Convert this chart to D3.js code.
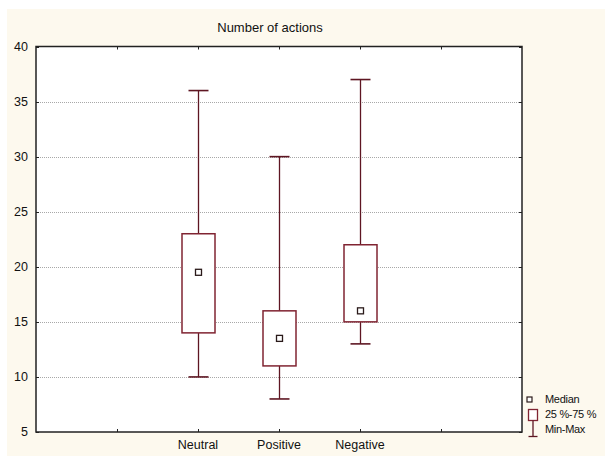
<!DOCTYPE html>
<html lang="en">
<head>
    <meta charset="UTF-8">
    <title>Number of actions</title>
    <script src="https://d3js.org/d3.v7.min.js"></script>
    <style>
        body {
            margin: 0;
            background: #fff;
            font-family: Arial, 'Liberation Sans', sans-serif;
        }
        .tick-label {
            font-size: 12.5px;
            fill: #111;
        }
        .legend-label {
            font-size: 11px;
            fill: #111;
        }
    </style>
</head>
<body>
    <div id="chart"></div>

    <script>
        // Data
        const slots = ['', 'Neutral', 'Positive', 'Negative', ''];
        const groups = ['Neutral', 'Positive', 'Negative'];
        const minVals = [10, 8, 13];
        const q1Vals = [14, 11, 15];
        const medianVals = [19.5, 13.5, 16];
        const q3Vals = [23, 16, 22];
        const maxVals = [36, 30, 37];
        const yTicks = [5, 10, 15, 20, 25, 30, 35, 40];
        const legendItems = ['Median', '25 %-75 %', 'Min-Max'];

        const config = {
            width: 605,
            height: 456,
            plot: { left: 36, right: 522, top: 46.5, bottom: 432 },
            boxWidth: 33,
            capWidth: 20,
            markSize: 6,
            boxColor: '#802432',
            whiskerColor: '#5e1622'
        };

        const svg = d3.select('#chart')
            .append('svg')
            .attr('width', config.width)
            .attr('height', config.height);

        // cream panel
        svg.append('rect')
            .attr('x', 7).attr('y', 9)
            .attr('width', config.width - 7)
            .attr('height', config.height - 9)
            .attr('fill', '#fdf9ee');

        const p = config.plot;

        // Scales: category centres sit on point positions with one empty slot padding
        const x = d3.scalePoint()
            .domain(d3.range(slots.length))
            .range([p.left, p.right])
            .padding(1);

        const y = d3.scaleLinear()
            .domain([5, 40])
            .range([p.bottom, p.top]);

        // plot area
        svg.append('rect')
            .attr('x', p.left).attr('y', p.top)
            .attr('width', p.right - p.left)
            .attr('height', p.bottom - p.top)
            .attr('fill', '#fff');

        // grid lines
        svg.append('g')
            .selectAll('line')
            .data(yTicks.filter(t => t > 5 && t < 40))
            .enter().append('line')
            .attr('x1', p.left).attr('x2', p.right)
            .attr('y1', d => Math.round(y(d)) + 0.5)
            .attr('y2', d => Math.round(y(d)) + 0.5)
            .attr('stroke', '#a8a8a8')
            .attr('stroke-dasharray', '1,1');

        // y axis labels + ticks
        const yAxis = svg.append('g');
        yAxis.selectAll('text')
            .data(yTicks)
            .enter().append('text')
            .attr('class', 'tick-label')
            .attr('x', p.left - 8)
            .attr('y', d => y(d))
            .attr('dy', '0.35em')
            .attr('text-anchor', 'end')
            .text(d => d);
        yAxis.selectAll('line.l')
            .data(yTicks)
            .enter().append('line')
            .attr('x1', p.left).attr('x2', p.left + 3)
            .attr('y1', d => Math.round(y(d)) + 0.5)
            .attr('y2', d => Math.round(y(d)) + 0.5)
            .attr('stroke', '#222');
        yAxis.selectAll('line.r')
            .data(yTicks)
            .enter().append('line')
            .attr('x1', p.right - 3).attr('x2', p.right)
            .attr('y1', d => Math.round(y(d)) + 0.5)
            .attr('y2', d => Math.round(y(d)) + 0.5)
            .attr('stroke', '#222');

        // x ticks (top and bottom)
        const xAxis = svg.append('g');
        slots.forEach((s, i) => {
            const cx = Math.round(x(i)) + 0.5;
            xAxis.append('line')
                .attr('x1', cx).attr('x2', cx)
                .attr('y1', p.bottom - 3).attr('y2', p.bottom)
                .attr('stroke', '#222');
            xAxis.append('line')
                .attr('x1', cx).attr('x2', cx)
                .attr('y1', p.top).attr('y2', p.top + 3)
                .attr('stroke', '#222');
            if (s) {
                xAxis.append('text')
                    .attr('class', 'tick-label')
                    .attr('x', x(i))
                    .attr('y', p.bottom + 17)
                    .attr('text-anchor', 'middle')
                    .text(s);
            }
        });

        // plot frame
        svg.append('rect')
            .attr('x', p.left).attr('y', p.top)
            .attr('width', p.right - p.left)
            .attr('height', p.bottom - p.top)
            .attr('fill', 'none')
            .attr('stroke', '#222')
            .attr('stroke-width', 1.5);

        // Boxes
        const boxes = svg.append('g');
        groups.forEach((g, i) => {
            const cx = Math.round(x(slots.indexOf(g))) + 0.5;

            // whiskers
            boxes.append('line')
                .attr('x1', cx).attr('x2', cx)
                .attr('y1', y(maxVals[i])).attr('y2', y(q3Vals[i]))
                .attr('stroke', config.whiskerColor).attr('stroke-width', 1.3);
            boxes.append('line')
                .attr('x1', cx).attr('x2', cx)
                .attr('y1', y(q1Vals[i])).attr('y2', y(minVals[i]))
                .attr('stroke', config.whiskerColor).attr('stroke-width', 1.3);
            [maxVals[i], minVals[i]].forEach(v => {
                boxes.append('line')
                    .attr('x1', cx - config.capWidth / 2).attr('x2', cx + config.capWidth / 2)
                    .attr('y1', y(v)).attr('y2', y(v))
                    .attr('stroke', config.whiskerColor).attr('stroke-width', 1.6);
            });

            // box
            boxes.append('rect')
                .attr('x', cx - config.boxWidth / 2)
                .attr('y', y(q3Vals[i]))
                .attr('width', config.boxWidth)
                .attr('height', y(q1Vals[i]) - y(q3Vals[i]))
                .attr('fill', '#fff')
                .attr('stroke', config.boxColor)
                .attr('stroke-width', 1.5);

            // median marker
            boxes.append('rect')
                .attr('x', cx - config.markSize / 2)
                .attr('y', y(medianVals[i]) - config.markSize / 2)
                .attr('width', config.markSize)
                .attr('height', config.markSize)
                .attr('fill', '#fff')
                .attr('stroke', '#2a1a1a')
                .attr('stroke-width', 1.3);
        });

        // Title
        svg.append('text')
            .attr('x', 270)
            .attr('y', 32)
            .attr('text-anchor', 'middle')
            .style('font-size', '13px')
            .style('fill', '#111')
            .text('Number of actions');

        // Legend
        const lg = svg.append('g');
        lg.append('rect')
            .attr('x', 527).attr('y', 397)
            .attr('width', 5).attr('height', 5)
            .attr('fill', '#fff')
            .attr('stroke', '#2a1a1a')
            .attr('stroke-width', 1.2);
        lg.append('rect')
            .attr('x', 528.5).attr('y', 409.5)
            .attr('width', 9).attr('height', 11)
            .attr('fill', '#fff')
            .attr('stroke', config.boxColor)
            .attr('stroke-width', 1.3);
        lg.append('line')
            .attr('x1', 533).attr('x2', 533)
            .attr('y1', 420.5).attr('y2', 436.5)
            .attr('stroke', config.whiskerColor).attr('stroke-width', 1.3);
        lg.append('line')
            .attr('x1', 528.5).attr('x2', 537.5)
            .attr('y1', 436.5).attr('y2', 436.5)
            .attr('stroke', config.whiskerColor).attr('stroke-width', 1.3);

        lg.selectAll('text')
            .data(legendItems)
            .enter().append('text')
            .attr('class', 'legend-label')
            .attr('x', 545)
            .attr('y', (d, i) => 403 + i * 15)
            .style('letter-spacing', '-0.3px')
            .text(d => d);
    </script>
</body>
</html>
